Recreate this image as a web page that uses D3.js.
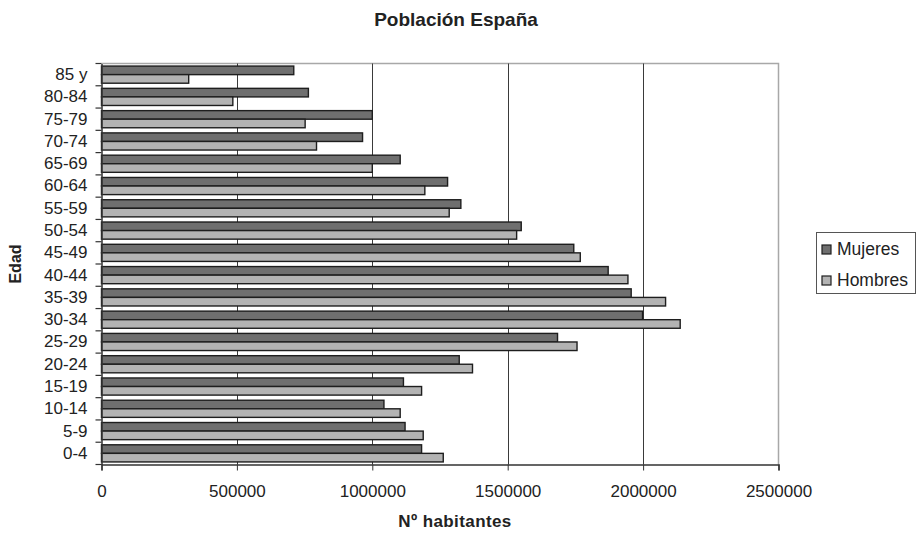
<!DOCTYPE html>
<html>
<head>
<meta charset="utf-8">
<script src="https://cdn.jsdelivr.net/npm/d3@7"></script>
<style>
  body { margin: 0; background: #fff; }
  svg { display: block; font-family: "Liberation Sans", Arial, sans-serif; }
</style>
</head>
<body>
<svg id="chart" width="917" height="535"></svg>
<script>
// Data (top = first)
const categories = ["85 y","80-84","75-79","70-74","65-69","60-64","55-59","50-54","45-49","40-44","35-39","30-34","25-29","20-24","15-19","10-14","5-9","0-4"];
const mujeres = [710000, 764000, 1000000, 964000, 1103000, 1278000, 1327000, 1550000, 1744000, 1871000, 1956000, 1998000, 1684000, 1321000, 1115000, 1043000, 1121000, 1182000];
const hombres = [322000, 485000, 752000, 794000, 1000000, 1194000, 1284000, 1533000, 1768000, 1944000, 2083000, 2137000, 1756000, 1370000, 1182000, 1103000, 1188000, 1262000];
const xTicks = [0, 500000, 1000000, 1500000, 2000000, 2500000];
const seriesNames = ["Mujeres", "Hombres"];
const seriesColors = ["#6f6f6f", "#b3b3b3"];

const svg = d3.select("#chart");
const pL = 101.5, pR = 778.5, pT = 63.5, pB = 464.5;

const x = d3.scaleLinear().domain([0, 2500000]).range([pL, pR]);
const y = d3.scaleBand().domain(categories).range([pT, pB]).paddingInner(0).paddingOuter(0);
const inner = d3.scaleBand().domain(seriesNames).range([0, y.bandwidth()]).paddingInner(0).paddingOuter(0.3);

// plot border (top & right light gray)
svg.append("path")
  .attr("d", `M${pL},${pT}H${pR}V${pB}`)
  .attr("fill", "none").attr("stroke", "#a8a8a8").attr("stroke-width", 1.5);

// gridlines
svg.append("g").selectAll("line").data(xTicks.slice(1, -1)).join("line")
  .attr("x1", d => Math.round(x(d)) + 0.5).attr("x2", d => Math.round(x(d)) + 0.5)
  .attr("y1", pT).attr("y2", pB)
  .attr("stroke", "#3a3a3a").attr("stroke-width", 1);

// bars
const data = categories.map((c, i) => ({ c, vals: [mujeres[i], hombres[i]] }));
const groups = svg.append("g").selectAll("g").data(data).join("g")
  .attr("transform", d => `translate(0,${y(d.c)})`);
groups.selectAll("rect").data(d => d.vals.map((v, j) => ({ v, s: seriesNames[j], j }))).join("rect")
  .attr("x", x(0))
  .attr("y", d => inner(d.s))
  .attr("width", d => x(d.v) - x(0))
  .attr("height", inner.bandwidth())
  .attr("fill", d => seriesColors[d.j])
  .attr("stroke", "#1e1e1e").attr("stroke-width", 1.4);

// x axis
const xAxis = d3.axisBottom(x).tickValues(xTicks).tickFormat(d3.format("d")).tickSize(6).tickPadding(14);
const gx = svg.append("g").attr("transform", `translate(0,${pB})`).call(xAxis);
gx.select(".domain").attr("stroke", "#333").attr("stroke-width", 1.5);
gx.selectAll(".tick line").attr("stroke", "#333");
gx.selectAll("text").attr("font-size", 17).attr("fill", "#222").attr("font-family", "Liberation Sans, Arial, sans-serif");

// y axis
const yAxis = d3.axisLeft(y).tickSize(0).tickPadding(14);
const gy = svg.append("g").attr("transform", `translate(${pL},0)`).call(yAxis);
gy.select(".domain").attr("stroke", "#333").attr("stroke-width", 1.5);
gy.selectAll("text").attr("font-size", 17).attr("fill", "#222").attr("font-family", "Liberation Sans, Arial, sans-serif");
// category boundary ticks
const bounds = categories.map(c => y(c)).concat([pB]);
svg.append("g").selectAll("line").data(bounds).join("line")
  .attr("x1", pL - 6).attr("x2", pL).attr("y1", d => d).attr("y2", d => d)
  .attr("stroke", "#333").attr("stroke-width", 1.2);

// titles
svg.append("text").attr("x", 456).attr("y", 26).attr("text-anchor", "middle")
  .attr("font-size", 19).attr("font-weight", "bold").attr("fill", "#222").text("Población España");
svg.append("text").attr("x", 455).attr("y", 527).attr("text-anchor", "middle")
  .attr("font-size", 17).attr("font-weight", "bold").attr("letter-spacing", 0.4).attr("fill", "#222").text("Nº habitantes");
svg.append("text").attr("transform", `translate(21,${(pT + pB) / 2}) rotate(-90)`).attr("text-anchor", "middle")
  .attr("font-size", 16).attr("font-weight", "bold").attr("fill", "#222").text("Edad");

// legend
const lg = svg.append("g");
lg.append("rect").attr("x", 816.5).attr("y", 232.5).attr("width", 99).attr("height", 61)
  .attr("fill", "#fff").attr("stroke", "#555").attr("stroke-width", 1);
const items = lg.selectAll("g.item").data(seriesNames).join("g").attr("class", "item")
  .attr("transform", (d, i) => `translate(822,${245 + i * 31})`);
items.append("rect").attr("width", 9).attr("height", 9)
  .attr("fill", (d, i) => seriesColors[i]).attr("stroke", "#1e1e1e").attr("stroke-width", 1.2);
items.append("text").attr("x", 15).attr("y", 9.5).attr("font-size", 17.5).attr("fill", "#222").text(d => d);
</script>
</body>
</html>
